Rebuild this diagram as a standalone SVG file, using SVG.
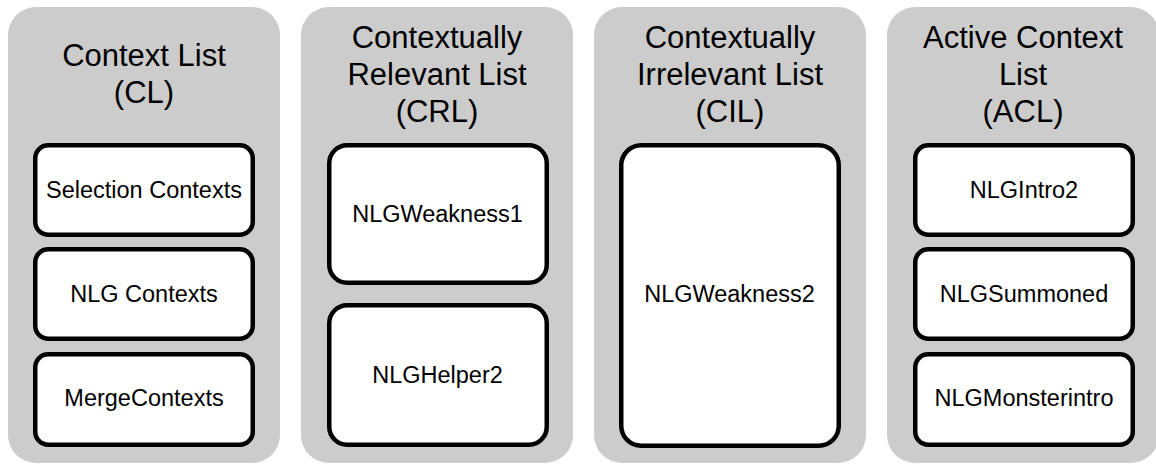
<svg xmlns="http://www.w3.org/2000/svg" width="1156" height="465" viewBox="0 0 1156 465">
<style>
.panel{fill:#cccccc;stroke:none}
.box{fill:#ffffff;stroke:#000000;stroke-width:4.5}
.title{font-family:"Liberation Sans",Arial,sans-serif;font-size:31px;fill:#000;text-anchor:middle}
.label{font-family:"Liberation Sans",Arial,sans-serif;font-size:23.5px;fill:#000;text-anchor:middle}
</style>
<rect width="1156" height="465" fill="#ffffff"/>
<g id="panel-cl">
<rect class="panel" x="8" y="7" width="272" height="456" rx="28"/>
<text class="title" x="144" y="66">Context List</text>
<text class="title" x="144" y="103">(CL)</text>
</g>
<g id="panel-crl">
<rect class="panel" x="301" y="7" width="272" height="456" rx="28"/>
<text class="title" x="437" y="48">Contextually</text>
<text class="title" x="437" y="85">Relevant List</text>
<text class="title" x="437" y="122">(CRL)</text>
</g>
<g id="panel-cil">
<rect class="panel" x="594" y="7" width="272" height="456" rx="28"/>
<text class="title" x="730" y="48">Contextually</text>
<text class="title" x="730" y="85">Irrelevant List</text>
<text class="title" x="730" y="122">(CIL)</text>
</g>
<g id="panel-acl">
<rect class="panel" x="887" y="7" width="272" height="456" rx="28"/>
<text class="title" x="1023" y="48">Active Context</text>
<text class="title" x="1023" y="85">List</text>
<text class="title" x="1023" y="122">(ACL)</text>
</g>
<g id="node-selection-contexts">
<rect class="box" x="35.25" y="145.25" width="217.5" height="89.5" rx="13"/>
<text class="label" x="144" y="198">Selection Contexts</text>
</g>
<g id="node-nlg-contexts">
<rect class="box" x="35.25" y="249.25" width="217.5" height="89.5" rx="13"/>
<text class="label" x="144" y="302">NLG Contexts</text>
</g>
<g id="node-mergecontexts">
<rect class="box" x="35.25" y="354.25" width="217.5" height="90.5" rx="13"/>
<text class="label" x="144" y="406">MergeContexts</text>
</g>
<g id="node-nlgweakness1">
<rect class="box" x="329.25" y="145.25" width="217.5" height="137.5" rx="18"/>
<text class="label" x="437.5" y="222">NLGWeakness1</text>
</g>
<g id="node-nlghelper2">
<rect class="box" x="329.25" y="305.25" width="217.5" height="139.5" rx="18"/>
<text class="label" x="437.5" y="383">NLGHelper2</text>
</g>
<g id="node-nlgweakness2">
<rect class="box" x="621.25" y="145.25" width="217.5" height="300.5" rx="20"/>
<text class="label" x="729.5" y="302">NLGWeakness2</text>
</g>
<g id="node-nlgintro2">
<rect class="box" x="915.25" y="145.25" width="217.5" height="89.5" rx="13"/>
<text class="label" x="1024" y="198">NLGIntro2</text>
</g>
<g id="node-nlgsummoned">
<rect class="box" x="915.25" y="249.25" width="217.5" height="89.5" rx="13"/>
<text class="label" x="1024" y="302">NLGSummoned</text>
</g>
<g id="node-nlgmonsterintro">
<rect class="box" x="915.25" y="354.25" width="217.5" height="90.5" rx="13"/>
<text class="label" x="1024" y="406">NLGMonsterintro</text>
</g>
<g id="connectors"/>
</svg>
